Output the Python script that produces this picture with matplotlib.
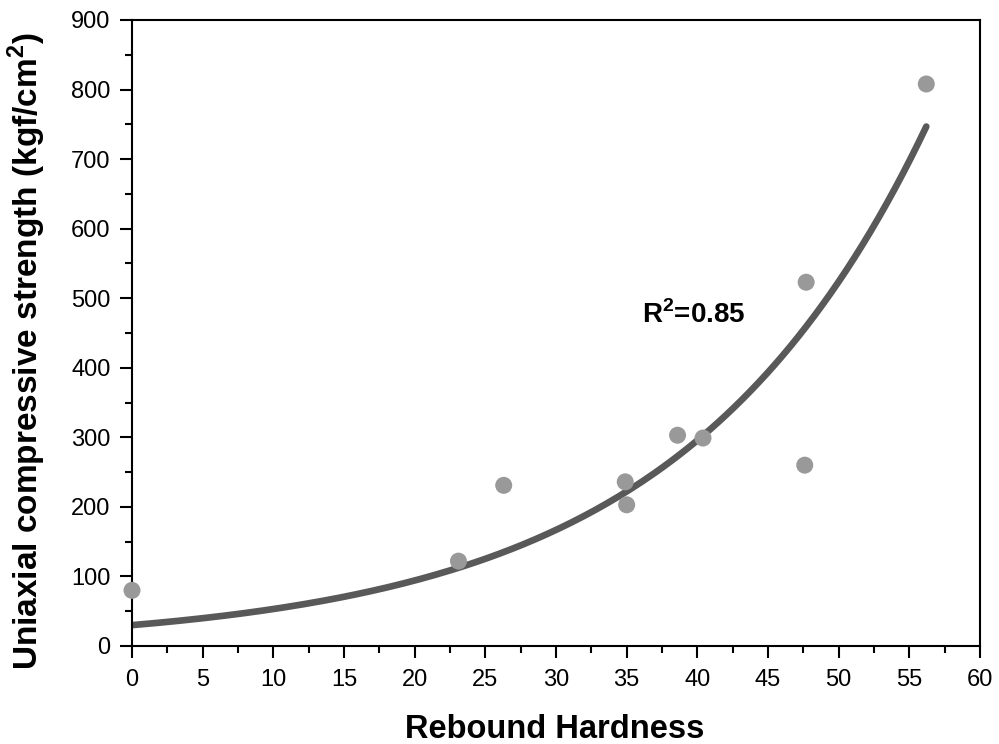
import numpy as np
import matplotlib
matplotlib.use("Agg")
import matplotlib.pyplot as plt
from matplotlib.ticker import MultipleLocator

plt.rcParams['font.family'] = ['Liberation Sans', 'DejaVu Sans']
plt.rcParams['mathtext.fontset'] = 'custom'
plt.rcParams['mathtext.rm'] = 'Liberation Sans'
plt.rcParams['mathtext.bf'] = 'Liberation Sans:bold'

# Measured samples
rebound = [0.0, 23.1, 26.3, 34.9, 35.0, 38.6, 40.4, 47.6, 47.7, 56.2]
ucs = [80, 122, 231, 236, 203, 303, 299, 260, 523, 808]

# Exponential fit: UCS = a * exp(b * R)
fit_a = 30.0
fit_b = 0.0572
fit_r2 = 0.85

W, H = 999, 744
fig = plt.figure(figsize=(W / 100, H / 100), dpi=100)
ax = fig.add_axes([132 / W, 1 - 646 / H, 848 / W, 626 / H])

ax.scatter(rebound, ucs, s=150, color='#999999', edgecolors='none', zorder=3, clip_on=False)
xf = np.linspace(0, max(rebound), 200)
ax.plot(xf, fit_a * np.exp(fit_b * xf), color='#595959', lw=4.8, solid_capstyle='round', zorder=2)

ax.set_xlim(0, 60)
ax.set_ylim(0, 900)
ax.xaxis.set_major_locator(MultipleLocator(5))
ax.xaxis.set_minor_locator(MultipleLocator(2.5))
ax.yaxis.set_major_locator(MultipleLocator(100))
ax.yaxis.set_minor_locator(MultipleLocator(50))
ax.tick_params(which='both', direction='out', width=1.5, labelsize=17, colors='black')
ax.tick_params(which='major', length=8.5)
ax.tick_params(axis='y', which='major', pad=7)
ax.tick_params(axis='x', which='major', pad=8)
ax.tick_params(which='minor', length=5)
for sp in ax.spines.values():
    sp.set_linewidth(1.5)

fig.text(555 / W, 1 - 738 / H, 'Rebound Hardness', fontsize=23.5, fontweight='bold',
         ha='center', va='baseline')
fig.text(27 / W, 1 - 351 / H, r'Uniaxial compressive strength (kgf/cm$^\mathbf{2}$)',
         fontsize=24, fontweight='bold', rotation=90, ha='center', va='center')

ax.text(36.1, 464, r'R$^\mathbf{2}$=%.2f' % fit_r2, fontsize=20, fontweight='bold',
        ha='left', va='baseline')

fig.savefig('out.png', dpi=100)
